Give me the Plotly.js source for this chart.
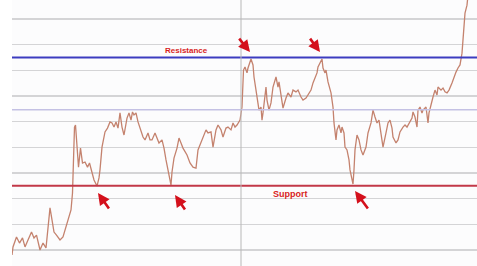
<!DOCTYPE html>
<html>
<head>
<meta charset="utf-8">
<script src="https://cdn.plot.ly/plotly-3.0.1.min.js"></script>
<style>html,body{margin:0;padding:0;background:#ffffff;}#chart{width:477px;height:266px;}</style>
</head>
<body>
<div id="chart"></div>
<script>
// Trading day index
const days = [
0,2,9,15,21,26,32,39,44,49,
56,62,68,72,76,79,84,89,96,102,
108,113,118,121,123,125,127,129,133,137,
141,146,151,155,159,164,170,174,176,180,
186,191,196,200,204,208,212,216,220,224,
230,234,238,241,244,248,252,257,262,266,
272,276,280,286,290,294,300,304,308,312,
316,318,320,324,330,334,338,342,350,356,
362,368,372,378,382,388,392,398,402,408,
412,418,422,428,432,438,442,446,450,456,
460,462,463,466,470,472,476,478,482,484,
488,492,494,498,500,502,506,508,510,514,
518,522,528,532,534,540,542,548,552,558,
562,568,572,578,582,588,592,598,602,606,
610,612,616,620,622,626,628,632,638,642,
644,648,650,654,658,660,664,666,670,674,
676,680,682,684,686,690,694,698,702,708,
712,718,722,726,730,734,740,742,748,752,
756,760,762,768,772,776,782,786,790,794,
800,802,806,810,812,816,820,822,828,832,
834,838,840,842,846,850,852,858,862,866,
870,874,880,884,888,892,896,900,902,904,
906,910,912
];
// Closing prices
const prices = [
8.1,11.2,15.1,12.7,14.7,11.2,13.9,17.0,14.7,15.8,
10.0,12.7,10.8,19.0,26.4,22.9,17.0,15.8,13.9,15.1,
19.0,21.7,25.6,32.2,42.3,57.9,58.7,52.9,42.3,49.7,
43.9,44.3,42.3,43.9,41.2,37.3,34.9,38.1,41.2,50.1,
56.0,57.5,59.9,59.5,57.9,59.9,57.5,63.4,57.9,54.8,
61.4,63.4,60.6,63.8,62.6,63.4,59.9,56.8,54.0,52.9,
55.6,52.9,52.9,55.6,53.6,51.7,52.9,49.7,45.1,41.2,
36.5,35.3,40.4,45.8,49.7,53.6,51.7,49.7,47.0,43.9,
42.3,41.9,49.0,51.7,53.6,56.8,55.6,56.0,50.1,56.8,
58.7,56.8,54.0,57.5,57.9,56.8,59.5,57.9,58.7,60.6,
65.7,75.1,80.1,81.3,79.0,80.9,83.2,84.4,82.1,77.4,
72.3,67.7,64.5,65.7,60.6,63.4,70.4,73.5,68.4,64.5,
67.3,73.5,77.4,73.5,75.5,68.4,65.3,69.2,71.2,69.6,
72.3,71.6,72.3,69.6,68.4,69.2,70.4,72.3,75.1,77.0,
79.0,81.3,83.2,84.4,80.9,79.0,80.1,75.5,71.2,65.7,
59.5,52.9,56.8,58.7,55.6,57.9,55.6,50.1,49.0,45.1,
41.2,38.1,35.7,41.2,49.0,54.8,52.9,49.0,47.0,50.1,
55.6,59.5,64.5,61.8,59.5,60.6,52.9,50.1,55.6,59.5,
60.6,57.5,54.0,51.7,52.9,56.0,57.9,58.7,57.9,59.5,
61.4,63.8,61.8,57.9,64.5,65.7,63.4,64.5,65.7,59.5,
63.4,66.5,68.4,69.6,72.3,70.4,73.5,72.3,73.1,71.6,
71.2,72.3,75.1,77.4,79.3,80.9,82.1,86.7,91.8,96.9,
102.3,105.4,109.3
];
const resistanceLevel = 85;
const supportLevel = 35;
const midLevel = 64.6;
const markerDay = 458;
const labels = {resistance: "Resistance", support: "Support"};
// arrows: [day, price, ax, ay]
const arrowTargets = [
  [172, 32.2, 12, 17],
  [326, 31.4, 11, 16],
  [686, 33.0, 14, 19],
  [476, 87.1, -12, -15],
  [616, 87.1, -11, -15]
];

const trace = {
  x: days, y: prices, type: 'scatter', mode: 'lines',
  line: {color: '#c4826e', width: 1.3}, hoverinfo: 'skip'
};

const shapes = [
  {type:'line', xref:'paper', x0:0, x1:1, yref:'y', y0:midLevel, y1:midLevel, line:{color:'#c4c1e4', width:1.5}},
  {type:'line', xref:'paper', x0:0, x1:1, yref:'y', y0:resistanceLevel, y1:resistanceLevel, line:{color:'#3c3cc0', width:2}},
  {type:'line', xref:'paper', x0:0, x1:1, yref:'y', y0:supportLevel, y1:supportLevel, line:{color:'#c23848', width:2}},
  {type:'line', xref:'x', x0:markerDay, x1:markerDay, yref:'paper', y0:0, y1:1, line:{color:'#b8b8b8', width:1}}
];

const annotations = arrowTargets.map(a => ({
  x: a[0], y: a[1], xref:'x', yref:'y', ax: a[2], ay: a[3], text: '',
  showarrow: true, arrowhead: 2, arrowsize: 0.9, arrowwidth: 2.6, arrowcolor: '#d4101c'
}));
annotations.push({x: 348, y: 87.6, xref:'x', yref:'y', text: labels.resistance, showarrow:false,
  font:{family:'Liberation Sans, Arial, sans-serif', size:8, color:'#d81e1e', weight:'bold'}});
annotations.push({x: 556, y: 31.8, xref:'x', yref:'y', text: labels.support, showarrow:false,
  font:{family:'Liberation Sans, Arial, sans-serif', size:9, color:'#d81e1e', weight:'bold'}});

const layout = {
  width: 477, height: 266,
  margin: {l: 12, r: 0, t: 0, b: 0},
  paper_bgcolor: '#ffffff', plot_bgcolor: '#fcfcfd',
  showlegend: false,
  xaxis: {range: [0, 930], showgrid: false, zeroline: false, showticklabels: false, showline: false, ticks: ''},
  yaxis: {range: [3.77, 107.4], tick0: 10, dtick: 10, showgrid: true, gridcolor: '#d4d4d6', gridwidth: 1.5,
          zeroline: false, showticklabels: false, showline: false, ticks: ''},
  shapes: shapes,
  annotations: annotations
};

Plotly.newPlot('chart', [trace], layout, {displayModeBar: false, staticPlot: true});
</script>
</body>
</html>
